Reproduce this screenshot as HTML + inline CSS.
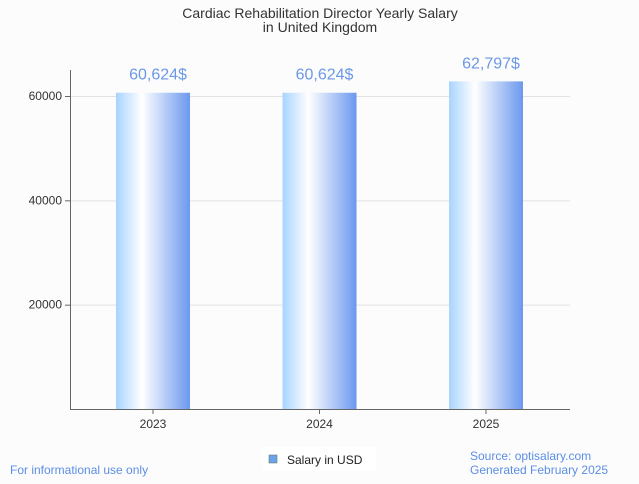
<!DOCTYPE html>
<html><head><meta charset="utf-8"><style>
body{margin:0;background:#fcfcfc;font-family:"Liberation Sans",sans-serif;}
</style></head><body>
<svg width="639" height="479" viewBox="0 0 639 479" xmlns="http://www.w3.org/2000/svg">
<defs>
<linearGradient id="g" x1="0" x2="1" y1="0" y2="0">
<stop offset="0" stop-color="#a8d4ff"/>
<stop offset="0.35" stop-color="#ffffff"/>
<stop offset="1" stop-color="#6b98ee"/>
</linearGradient>
</defs>
<rect width="639" height="479" fill="#fcfcfc"/>
<text x="320" y="18" text-anchor="middle" font-size="14" fill="#333">Cardiac Rehabilitation Director Yearly Salary</text>
<text x="320" y="32" text-anchor="middle" font-size="14" fill="#333">in United Kingdom</text>
<g id="grid"></g>
<g id="bars"></g>
<line x1="70.5" y1="70" x2="70.5" y2="409" stroke="#666"/>
<line x1="70" y1="409.5" x2="570" y2="409.5" stroke="#666"/>
<rect x="262" y="447" width="114" height="24" fill="#fff"/>
<rect x="269" y="455" width="8" height="8" fill="#6aa5ea" stroke="#666" stroke-width="0.5"/>
<text x="287" y="464" font-size="12" fill="#222">Salary in USD</text>
<text x="10" y="474" font-size="12" fill="#5b8ee6">For informational use only</text>
<text x="470" y="460" font-size="12" fill="#5b8ee6">Source: optisalary.com</text>
<text x="470" y="474" font-size="12" fill="#5b8ee6">Generated February 2025</text>
</svg>
<script>
const categories=["2023","2024","2025"];
const values=[60624,60624,62797];
const valueLabels=["60,624$","60,624$","62,797$"];
const yTicks=[20000,40000,60000];
const NS="http://www.w3.org/2000/svg";
const y=v=>409-v*(313/60000);
const xc=i=>153+i*166.5;
const grid=document.getElementById('grid'),bars=document.getElementById('bars');
function mk(t,a,p){const e=document.createElementNS(NS,t);for(const k in a)e.setAttribute(k,a[k]);p.appendChild(e);return e;}
yTicks.forEach(t=>{
 const l=mk('line',{x1:70,x2:570,y1:y(t)+0.5,y2:y(t)+0.5,stroke:'#e2e2e2'},grid);
 
 
 const k=mk('line',{x1:65,x2:70,y1:y(t)+0.5,y2:y(t)+0.5,stroke:'#666'},grid);
 
 
 const tx=mk('text',{x:62,y:y(t)+4,'text-anchor':'end','font-size':12,fill:'#333'},grid);
 tx.textContent=t;
 
 
});
categories.forEach((c,i)=>{
 const r=mk('rect',{x:xc(i)-37,y:y(values[i]),width:74,height:409-y(values[i]),fill:'url(#g)'},bars);
 
 
 const v=mk('text',{x:xc(i)+5,y:y(values[i])-13,'text-anchor':'middle','font-size':16,fill:'#6b98e6'},bars);
 v.textContent=valueLabels[i];
 
 
 const k=mk('line',{x1:xc(i),x2:xc(i),y1:409,y2:414,stroke:'#666'},bars);
 
 
 const t=mk('text',{x:xc(i),y:428,'text-anchor':'middle','font-size':12,fill:'#333'},bars);
 t.textContent=c;
 
 
});
</script>
</body></html>
